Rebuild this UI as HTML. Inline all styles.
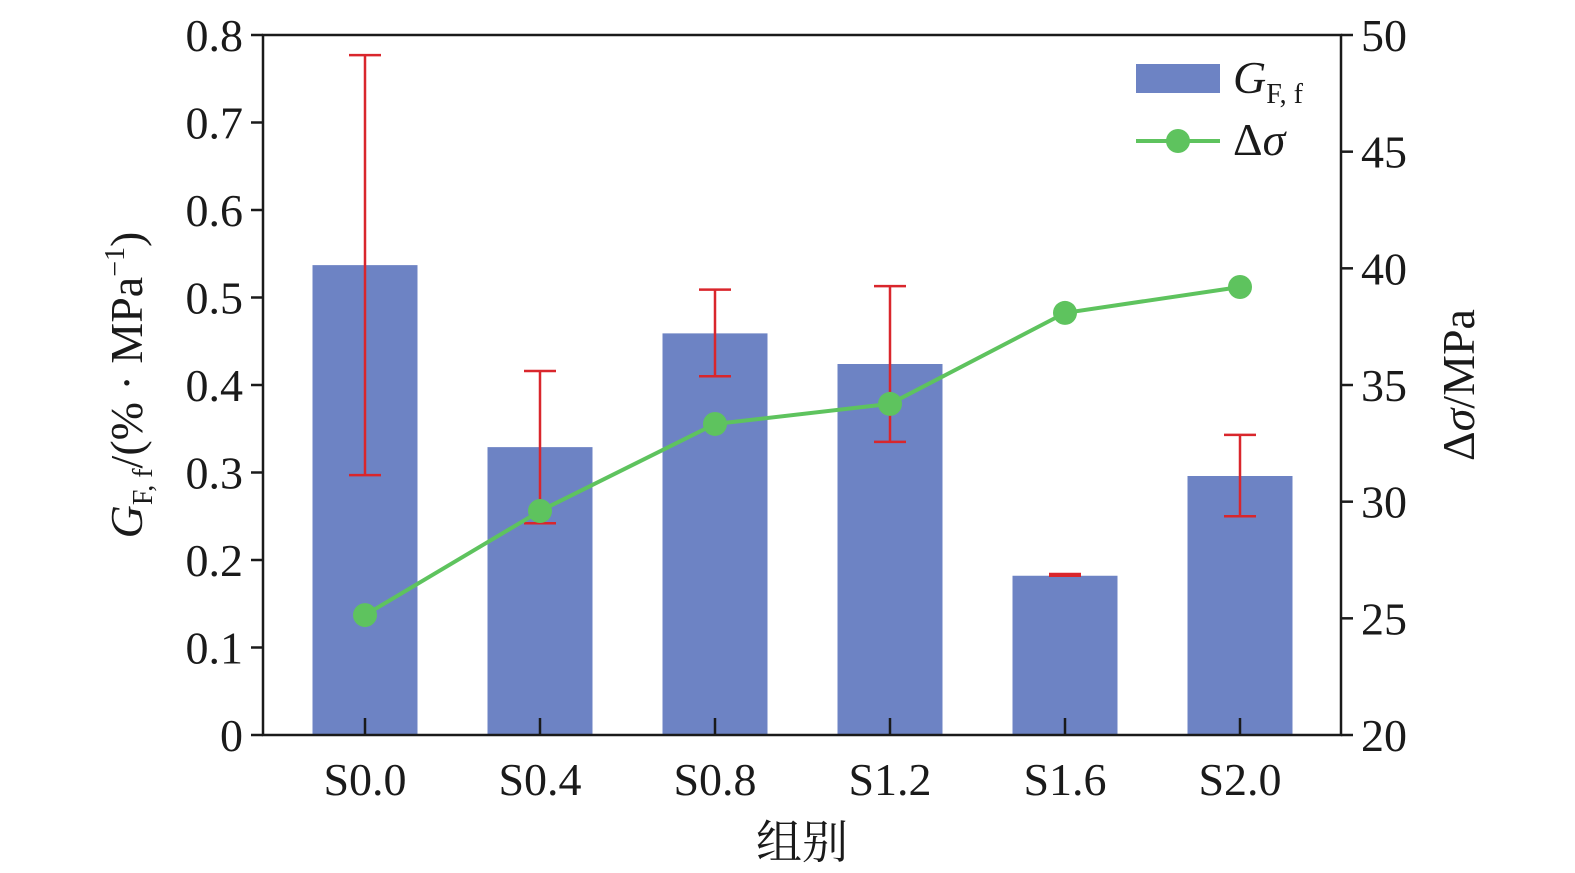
<!DOCTYPE html>
<html><head><meta charset="utf-8"><style>
html,body{margin:0;padding:0;background:#fff;overflow:hidden;width:1575px;height:873px}
#wrap{position:relative;width:1575px;height:873px}
svg{display:block;position:absolute;left:0;top:0}
text,tspan{font-family:"Liberation Serif","Times New Roman",serif}
.cjk{font-family:"Liberation Serif","Noto Serif CJK SC","Noto Sans CJK SC",serif}
svg text{fill:#1a1a1a}
</style></head><body>
<div id="wrap">
<svg id="c" width="1575" height="873" xmlns="http://www.w3.org/2000/svg"></svg>
<svg width="1575" height="873" xmlns="http://www.w3.org/2000/svg">
<g>
<rect x="1136" y="64" width="84" height="29" fill="#6d83c4"/>
<text x="1233" y="93" font-size="46" font-style="italic">G<tspan font-size="28" font-style="normal" dy="10">F, f</tspan></text>
<line x1="1136" x2="1220" y1="141" y2="141" stroke="#5ec35e" stroke-width="4"/>
<circle cx="1178" cy="141" r="12" fill="#5ec35e"/>
<text x="1233" y="155" font-size="46">Δ<tspan font-style="italic">σ</tspan></text>
</g>
<text transform="translate(142,385) rotate(-90)" text-anchor="middle" font-size="46"><tspan font-style="italic">G</tspan><tspan font-size="28" dy="10">F, f</tspan><tspan dy="-10">/(% · MPa</tspan><tspan font-size="28" dy="-18">−1</tspan><tspan dy="18">)</tspan></text>
<text transform="translate(1474,385) rotate(-90)" text-anchor="middle" font-size="46">Δ<tspan font-style="italic">σ</tspan>/MPa</text>
<text class="cjk" x="802" y="858" text-anchor="middle" font-size="46">组别</text>
</svg>
</div>
<script>
const categories=["S0.0","S0.4","S0.8","S1.2","S1.6","S2.0"];
const gValues=[0.537,0.329,0.459,0.424,0.182,0.296];
const errHigh=[0.777,0.416,0.509,0.513,0.184,0.343];
const errLow=[0.297,0.242,0.41,0.335,0.182,0.25];
const dSigma=[25.14,29.6,33.33,34.19,38.09,39.2];
const leftTicks=[0,0.1,0.2,0.3,0.4,0.5,0.6,0.7,0.8];
const rightTicks=[20,25,30,35,40,45,50];

const NS="http://www.w3.org/2000/svg";
const svg=document.getElementById('c');
const L=263,R=1341,T=35,B=735;
const yL=v=>B-(v/0.8)*(B-T);
const yR=v=>B-((v-20)/30)*(B-T);
const xC=i=>365+i*175;
function mk(tag,a,parent){const e=document.createElementNS(NS,tag);for(const k in a)e.setAttribute(k,a[k]);(parent||svg).appendChild(e);return e;}

categories.forEach((c,i)=>{
  const b=mk('rect',{x:xC(i)-52.5,y:yL(gValues[i]),width:105,height:B-yL(gValues[i]),fill:'#6d83c4'});
  
  
});
categories.forEach((c,i)=>{
  const g=mk('g',{stroke:'#d9262c','stroke-width':2.5});
  
  
  const x=xC(i);
  mk('line',{x1:x,x2:x,y1:yL(errHigh[i]),y2:yL(errLow[i])},g);
  mk('line',{x1:x-16,x2:x+16,y1:yL(errHigh[i]),y2:yL(errHigh[i])},g);
  mk('line',{x1:x-16,x2:x+16,y1:yL(errLow[i]),y2:yL(errLow[i])},g);
});
const ax=mk('g',{stroke:'#1a1a1a','stroke-width':2.5,fill:'none'});


mk('rect',{x:L,y:T,width:R-L,height:B-T},ax);
leftTicks.forEach(v=>{
  mk('line',{x1:L-12,x2:L,y1:yL(v),y2:yL(v)},ax);
  const t=mk('text',{x:L-20,y:yL(v)+16,'text-anchor':'end','font-size':46});
  t.textContent=v===0?'0':v.toFixed(1);
  
  
});
rightTicks.forEach(v=>{
  mk('line',{x1:R,x2:R+12,y1:yR(v),y2:yR(v)},ax);
  const t=mk('text',{x:R+20,y:yR(v)+16,'font-size':46});
  t.textContent=v;
  
  
});
categories.forEach((c,i)=>{
  mk('line',{x1:xC(i),x2:xC(i),y1:B-17,y2:B},ax);
  const t=mk('text',{x:xC(i),y:795,'text-anchor':'middle','font-size':46});
  t.textContent=c;
  
  
});
const pl=mk('polyline',{points:dSigma.map((v,i)=>xC(i)+','+yR(v)).join(' '),fill:'none',stroke:'#5ec35e','stroke-width':4});


dSigma.forEach((v,i)=>{
  const p=mk('circle',{cx:xC(i),cy:yR(v),r:12,fill:'#5ec35e'});
  
  
});
</script>
</body></html>
